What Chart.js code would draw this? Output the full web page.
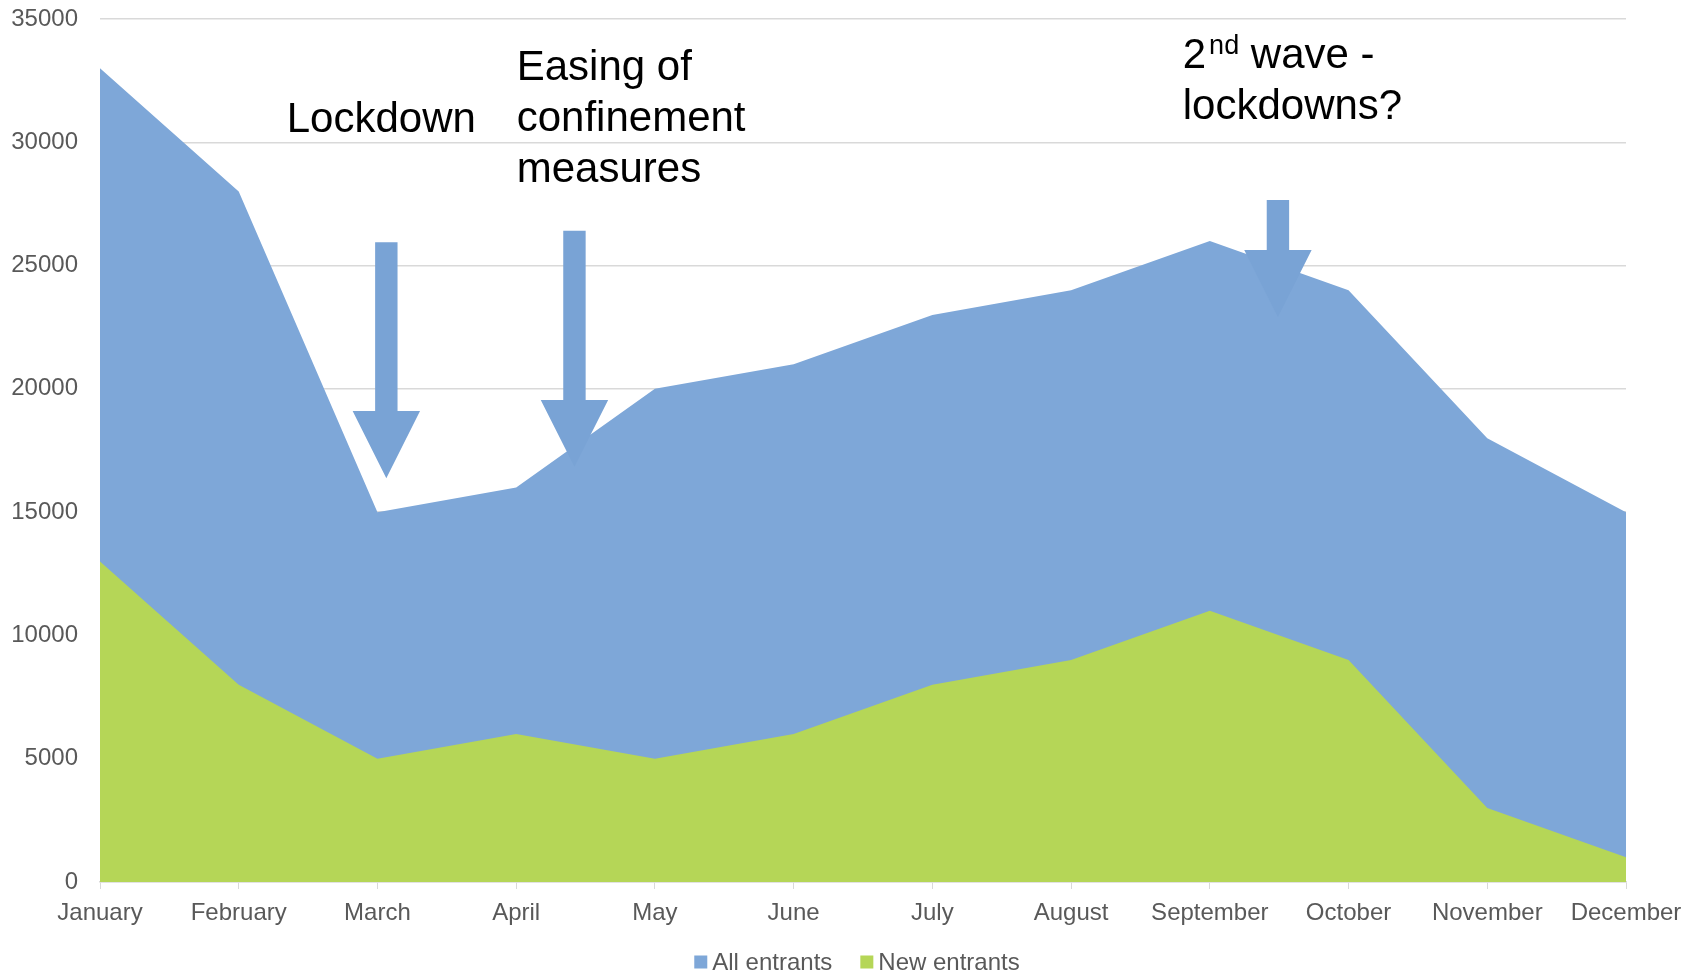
<!DOCTYPE html>
<html><head><meta charset="utf-8">
<script src="https://cdn.jsdelivr.net/npm/chart.js@4/dist/chart.umd.min.js"></script>
<style>html,body{margin:0;padding:0;background:#fff;overflow:hidden}#wrap{width:1698px;height:973px;position:relative}</style>
</head><body><div id="wrap"><canvas id="c"></canvas></div>
<script>
const months = ['January','February','March','April','May','June','July','August','September','October','November','December'];
const allEntrants = [33000,28000,15000,16000,20000,21000,23000,24000,26000,24000,18000,15000];
const newEntrants = [13000,8000,5000,6000,5000,6000,8000,9000,11000,9000,3000,1000];
const yTickValues = [0,5000,10000,15000,20000,25000,30000,35000];
const seriesLabels = ['All entrants','New entrants'];
const seriesColors = ['#7ea7d8','#b5d657'];
const arrowColor = '#79a3d5';

// annotation texts: x in category units, y baseline in data units
const noteLockdown = {lines:['Lockdown'], x:1.346, y:30430};
const noteEasing = {lines:['Easing of','confinement','measures'], x:3.004, y:32530};
const noteWave = {lines:['2|nd| wave -','lockdowns?'], x:7.805, y:33000};
const notes = [noteLockdown, noteEasing, noteWave];
// arrows: x in category units; y values for shaft top, head top, tip
const arrows = [
  {x:2.064, top:25950, head:19100, tip:16370},
  {x:3.420, top:26410, head:19550, tip:16840},
  {x:8.491, top:27660, head:25630, tip:22910}
];

const FONT = '"Liberation Sans", Arial, sans-serif';

const overlay = {
  id:'overlay',
  afterDatasetsDraw(chart){
    const ctx = chart.ctx, xs = chart.scales.x, ys = chart.scales.y;
    ctx.save();
    ctx.fillStyle = arrowColor;
    arrows.forEach(a=>{
      const cx = xs.getPixelForValue(a.x);
      const t = ys.getPixelForValue(a.top), h = ys.getPixelForValue(a.head), p = ys.getPixelForValue(a.tip);
      const sw = 11.2, hw = 33.7;
      ctx.beginPath();
      ctx.moveTo(cx-sw,t); ctx.lineTo(cx+sw,t); ctx.lineTo(cx+sw,h); ctx.lineTo(cx+hw,h);
      ctx.lineTo(cx,p); ctx.lineTo(cx-hw,h); ctx.lineTo(cx-sw,h); ctx.closePath();
      ctx.fill();
    });
    ctx.fillStyle = '#000';
    ctx.textBaseline = 'alphabetic';
    ctx.textAlign = 'left';
    notes.forEach(n=>{
      const x0 = xs.getPixelForValue(n.x);
      let y = ys.getPixelForValue(n.y);
      n.lines.forEach(line=>{
        const parts = line.split('|');
        let x = x0;
        parts.forEach((part,i)=>{
          if(i%2===1){
            ctx.font = '27px '+FONT;
            x += 3;
            ctx.fillText(part, x, y-14);
            x += ctx.measureText(part).width;
          } else {
            ctx.font = '42px '+FONT;
            ctx.fillText(part, x, y);
            x += ctx.measureText(part).width;
          }
        });
        y += 51;
      });
    });
    ctx.restore();
  },
  afterDraw(chart){
    const ctx = chart.ctx, area = chart.chartArea;
    ctx.save();
    ctx.font = '24px '+FONT;
    ctx.textBaseline = 'middle';
    ctx.textAlign = 'left';
    const box = 13, gapBoxText = 5, gapItems = 28;
    const widths = seriesLabels.map(l=>box+gapBoxText+ctx.measureText(l).width);
    const total = widths.reduce((s,w)=>s+w,0)+gapItems*(seriesLabels.length-1);
    let x = (area.left+area.right)/2 - 6 - total/2;
    const cy = 962;
    seriesLabels.forEach((l,i)=>{
      ctx.fillStyle = seriesColors[i];
      ctx.fillRect(x, cy-box/2, box, box);
      ctx.fillStyle = '#595959';
      ctx.fillText(l, x+box+gapBoxText, cy+1);
      x += widths[i]+gapItems;
    });
    ctx.restore();
  }
};

new Chart(document.getElementById('c'), {
  type:'line',
  data:{
    labels: months,
    datasets:[
      {label:seriesLabels[0], data:allEntrants, backgroundColor:seriesColors[0], borderWidth:0, pointRadius:0, fill:'origin', order:1, tension:0},
      {label:seriesLabels[1], data:newEntrants, backgroundColor:seriesColors[1], borderWidth:0, pointRadius:0, fill:'origin', order:0, tension:0}
    ]
  },
  options:{
    responsive:true, maintainAspectRatio:false, animation:false,
    layout:{padding:{left:0,right:72,top:19,bottom:0}},
    plugins:{legend:{display:false}, tooltip:{enabled:false}},
    scales:{
      x:{
        type:'category', offset:false,
        grid:{drawOnChartArea:false, drawTicks:true, tickLength:7, color:'#d9d9d9', lineWidth:1},
        border:{display:true, color:'#d9d9d9', width:1.5},
        ticks:{color:'#595959', font:{family:FONT, size:24}, maxRotation:0, autoSkip:false, padding:10},
        afterFit(s){ s.height = 91; }
      },
      y:{
        min:0, max:35000,
        afterBuildTicks(s){ s.ticks = yTickValues.map(v=>({value:v})); },
        grid:{color:'#d9d9d9', lineWidth:1.5, drawTicks:false},
        border:{display:false},
        ticks:{color:'#595959', font:{family:FONT, size:24}, padding:22, callback:v=>String(v)},
        afterFit(s){ s.width = 100; s.paddingTop = 0; s.paddingBottom = 0; }
      }
    }
  },
  plugins:[overlay]
});
</script>
</body></html>
